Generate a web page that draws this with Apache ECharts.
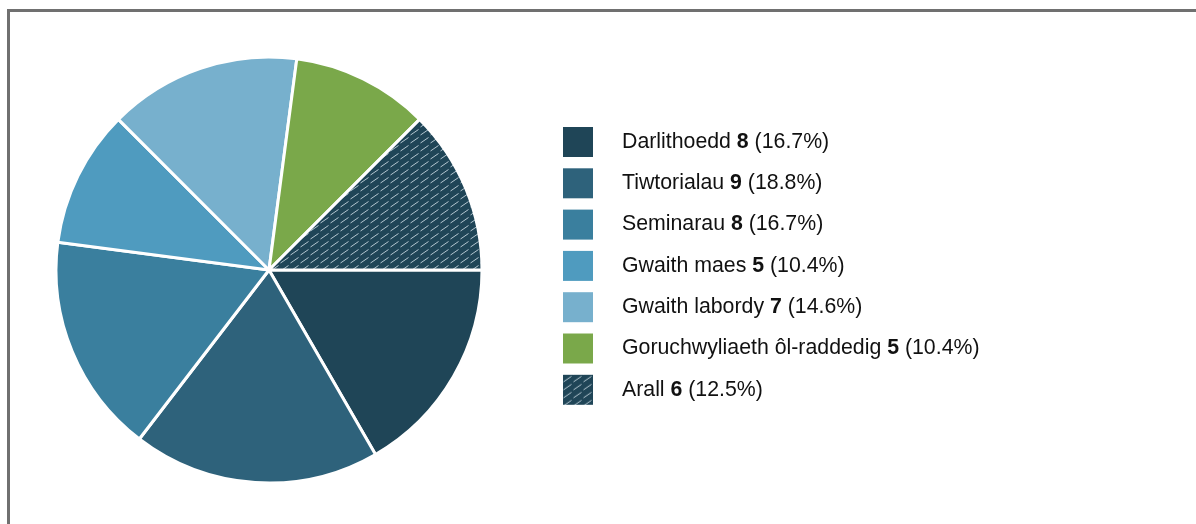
<!DOCTYPE html>
<html>
<head>
<meta charset="utf-8">
<script src="https://cdn.jsdelivr.net/npm/echarts@6/dist/echarts.min.js"></script>
<style>
  html, body { margin: 0; padding: 0; background: #fff; }
  #chart1 { width: 1196px; height: 524px; }
</style>
</head>
<body>
<div id="chart1"></div>
<script>
// data
var categories = ['Darlithoedd', 'Tiwtorialau', 'Seminarau', 'Gwaith maes', 'Gwaith labordy', 'Goruchwyliaeth ôl-raddedig', 'Arall'];
var values = [8, 9, 8, 5, 7, 5, 6];
var colors = ['#1f4557', '#2e627b', '#3a7f9e', '#4f9bbf', '#77b0cd', '#7aa84a', null];

// hatch pattern for "Arall"
function makeHatch() {
    var c = document.createElement('canvas');
    c.width = 10;
    c.height = 8;
    var ctx = c.getContext('2d');
    ctx.fillStyle = '#1f4557';
    ctx.fillRect(0, 0, 10, 8);
    ctx.strokeStyle = '#b4c6d0';
    ctx.lineWidth = 1;
    ctx.beginPath();
    ctx.moveTo(0.5, 7);
    ctx.lineTo(8.5, 1.5);
    ctx.stroke();
    return c;
}

window.onload = function() {
    chart1();
}

function chart1() {
    var myChart = echarts.init(document.getElementById('chart1'));
    var hatch = { image: makeHatch(), repeat: 'repeat' };
    var total = values.reduce(function(a, b) { return a + b; }, 0);

    var data = categories.map(function(name, i) {
        return {
            name: name,
            value: values[i],
            itemStyle: { color: colors[i] || hatch }
        };
    });

    var option = {
        animation: false,
        graphic: [{
            type: 'rect',
            shape: { x: 8.5, y: 10.5, width: 1300, height: 700 },
            style: { fill: 'none', stroke: '#707070', lineWidth: 3 },
            silent: true
        }],
        legend: {
            orient: 'vertical',
            left: 558,
            top: 122,
            itemWidth: 30,
            itemHeight: 30,
            itemGap: 11.3,
            icon: 'rect',
            selectedMode: false,
            itemStyle: { borderWidth: 0 },
            data: categories,
            formatter: function(name) {
                var i = categories.indexOf(name);
                var pct = (values[i] / total * 100).toFixed(1);
                return '{n|' + name + ' }{b|' + values[i] + '}{n| (' + pct + '%)}';
            },
            textStyle: {
                padding: [0, 0, 0, 24],
                rich: {
                    n: { fontFamily: 'Liberation Sans', fontSize: 21.3, lineHeight: 30, color: '#111' },
                    b: { fontFamily: 'Liberation Sans', fontSize: 21.3, lineHeight: 30, color: '#111', fontWeight: 'bold' }
                }
            }
        },
        series: [{
            type: 'pie',
            center: [269, 270],
            radius: 213,
            startAngle: 0,
            clockwise: true,
            label: { show: false },
            labelLine: { show: false },
            emphasis: { disabled: true },
            itemStyle: { borderColor: '#fff', borderWidth: 3 },
            data: data
        }]
    };

    myChart.setOption(option);
}
</script>
</body>
</html>
